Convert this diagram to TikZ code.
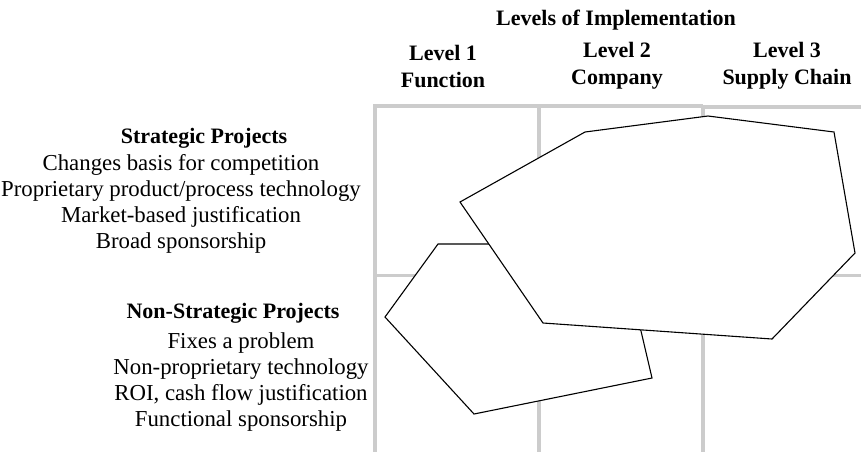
\documentclass[tikz,border=0pt]{standalone}
\usepackage{fontspec}
\setmainfont{Liberation Serif}
\usetikzlibrary{positioning}

\begin{document}
\begin{tikzpicture}[
  x=0.5pt, y=-0.5pt,
  font=\fontsize{11.4}{13}\selectfont,
  gridline/.style={draw=black!20, line width=1.8pt},
  area/.style={draw=black, fill=white, line width=0.55pt, line join=miter},
  head/.style={font=\fontsize{11}{13.5}\selectfont\bfseries, align=center, inner sep=0pt},
  body/.style={align=center, inner sep=0pt}
]
\useasboundingbox (0,0) rectangle (861,452);

% grid of the three levels
\draw[gridline] (373,106) -- (703,106);
\draw[gridline] (703,107) -- (861,107);
\draw[gridline] (375,105) -- (375,452);
\draw[gridline] (539,106) -- (539,452);
\draw[gridline] (703,106) -- (703,452);
\draw[gridline] (375,275.5) -- (861,275.5);

% column heads
\node[head] (levels) at (616,20) {Levels of Implementation};
\node[head] (lvlone) at (443,66) {Level 1\\Function};
\node[head] (lvltwo) at (617,66) {Level 2\\Company};
\node[head] (lvlthree) at (787,66) {Level 3\\Supply Chain};

% row heads
\node[head] (strat) at (204,138) {Strategic Projects};
\node[body] (stratlist) at (181,204) {Changes basis for competition\\
  Proprietary product/process technology\\Market-based justification\\
  Broad sponsorship};
\node[head] (nonstrat) at (233,313) {Non-Strategic Projects};
\node[body] (nonstratlist) at (241,382) {Fixes a problem\\
  Non-proprietary technology\\ROI, cash flow justification\\
  Functional sponsorship};

% project areas
\draw[area] (438,244) -- (600,244) -- (641,331) -- (652,378)
  -- (474,414) -- (385,317) -- cycle;
\draw[area] (460,202) -- (585,132) -- (708,116) -- (834,132)
  -- (855,253) -- (772,339) -- (543,323) -- cycle;
\end{tikzpicture}
\end{document}
